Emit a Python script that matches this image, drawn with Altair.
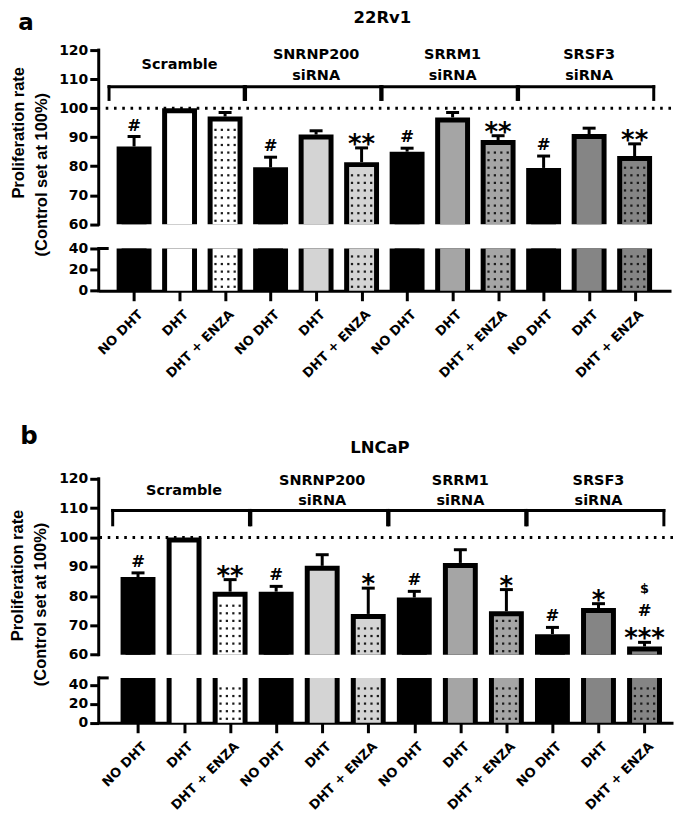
import altair as alt
import pandas as pd

FONT = "DejaVu Sans"
TFONT = "Liberation Sans"

treatments = ["NO DHT", "DHT", "DHT + ENZA"]
groups = ["Scramble", "SNRNP200", "SRRM1", "SRSF3"]
group_lines = [["Scramble"], ["SNRNP200", "siRNA"], ["SRRM1", "siRNA"], ["SRSF3", "siRNA"]]
group_fills = ["#ffffff", "#d4d4d4", "#a5a5a5", "#858585"]

# Panel a: 22Rv1
a_values = [86.8, 100, 97.1, 79.6, 90.9, 81.4, 85.0, 96.8, 89.0, 79.4, 91.1, 83.5]
a_errors = [3.4, 0, 1.4, 3.5, 1.3, 4.9, 1.2, 1.7, 1.5, 4.1, 2.0, 4.2]
a_marks = ["#", "", "", "#", "", "**", "#", "", "**", "#", "", "**"]
a_extra = []

# Panel b: LNCaP
b_values = [86.5, 100, 81.5, 81.5, 90.3, 73.9, 79.5, 91.3, 74.8, 67.0, 75.9, 62.8]
b_errors = [1.4, 0, 4.1, 1.8, 3.8, 8.8, 2.1, 4.5, 7.4, 2.3, 1.5, 1.4]
b_marks = ["#", "", "**", "#", "", "*", "#", "", "*", "#", "*", "***"]
b_extra = [(11, "#", 1), (11, "$", 2)]

y_ticks = [0, 20, 40, 60, 70, 80, 90, 100, 110, 120]
y_title = ["Proliferation rate", "(Control set at 100%)"]

PANELS = [
    dict(letter="a", title="22Rv1", values=a_values, errors=a_errors, marks=a_marks, extra=a_extra,
         segtop=40, h_top=174.7, gap=24.3, h_low=42.4, width=574, xdom=[-0.667, 11.69],
         bracket=(107.4, 103.0), label_y=(114.9, 118.3, 111.1),
         letter_pos=(-73, -20), letter_size=23, title_pos=(284.5, -27),
         ytitle_pos=[(-75, 83), (-52, 125)]),
    dict(letter="b", title="LNCaP", values=b_values, errors=b_errors, marks=b_marks, extra=b_extra,
         segtop=47.4, h_top=176.4, gap=23.3, h_low=45.0, width=576, xdom=[-0.745, 11.51],
         bracket=(109.2, 104.3), label_y=(116.0, 119.4, 112.3),
         letter_pos=(-70, -35), letter_size=24.5, title_pos=(282, -26),
         ytitle_pos=[(-76, 97), (-53, 126)]),
]

ANN_STYLE = {
    ("star", 0): dict(fontSize=26, dy=5),
    ("hash", 0): dict(fontSize=16.5, dy=-6),
    ("hash", 1): dict(fontSize=16.5, dy=-26),
    ("dollar", 2): dict(fontSize=13, dy=-50),
}


def kind_of(t):
    if "*" in t:
        return "star"
    if "#" in t:
        return "hash"
    return "dollar"


def make_panel(p):
    values, errors = p["values"], p["errors"]
    segtop = p["segtop"]
    H = p["h_top"] + p["gap"] + p["h_low"]
    W = p["width"]
    yscale = alt.Scale(domain=[0, segtop, 60, 120], range=[H, H - p["h_low"], p["h_top"], 0],
                       nice=False, zero=False)
    xscale = alt.Scale(domain=p["xdom"], nice=False, zero=False)
    step = W / (p["xdom"][1] - p["xdom"][0])

    xaxis = alt.Axis(values=list(range(12)), tickCount=40,
                     labelExpr="['NO DHT','DHT','DHT + ENZA'][datum.value % 3]",
                     labelAngle=315, labelAlign="right", labelBaseline="top",
                     labelFont=FONT, labelFontSize=13, labelFontWeight="bold",
                     labelColor="black", labelPadding=7, labelOffset=2, labelOverlap=False,
                     labelFlush=False, domainColor="black", domainWidth=3, tickColor="black",
                     tickWidth=3, tickSize=10, grid=False, title=None)
    yaxis = alt.Axis(values=y_ticks, tickCount=40, domain=False, grid=False, labelFont=FONT,
                     labelFontSize=14, labelFontWeight="bold", labelColor="black", labelPadding=2,
                     labelOverlap=False, labelFlush=False, tickColor="black", tickWidth=3,
                     tickSize=9, title=None)

    def X(f):
        return alt.X(f, type="quantitative", scale=xscale, axis=xaxis)

    def Y(f):
        return alt.Y(f, type="quantitative", scale=yscale, axis=yaxis)

    rows = []
    for i, v in enumerate(values):
        g, t = divmod(i, 3)
        rows.append({"idx": i, "value": v, "err": errors[i], "cap": v + errors[i],
                     "fill": "#000000" if t == 0 else group_fills[g]})
    bars = pd.DataFrame(rows)

    # dot texture for the DHT + ENZA bars
    pxu_top = p["h_top"] / 60.0
    pxu_low = p["h_low"] / segtop
    dots = []
    for i, v in enumerate(values):
        if i % 3 != 2:
            continue
        ys = []
        q = 3.5
        while q < (v - 60) * pxu_top - 8:
            ys.append(60 + q / pxu_top)
            q += 7.6
        q = 4.0
        while q < p["h_low"] - 3:
            ys.append(q / pxu_low)
            q += 7.6
        for yv in ys:
            for off in (-9.8, -3.3, 3.3, 9.8):
                dots.append({"dx": i + off / step, "dy": yv})
    dots = pd.DataFrame(dots)

    layers = []
    layers.append(alt.Chart(pd.DataFrame({"v": [100]})).mark_rule(
        color="black", strokeWidth=3, strokeDash=[2.6, 5.7]).encode(y=Y("v")))
    layers.append(alt.Chart(bars).mark_bar(width=35, color="black").encode(
        x=X("idx"), y=Y("value"), y2=alt.datum(60)))
    layers.append(alt.Chart(bars).mark_bar(width=25, yOffset=5).encode(
        x=X("idx"), y=Y("value"), y2=alt.datum(60), fill=alt.Fill("fill:N", scale=None)))
    layers.append(alt.Chart(bars).mark_bar(width=35, color="black").encode(
        x=X("idx"), y=alt.datum(segtop), y2=alt.datum(0)))
    layers.append(alt.Chart(bars).mark_bar(width=25).encode(
        x=X("idx"), y=alt.datum(segtop), y2=alt.datum(0), fill=alt.Fill("fill:N", scale=None)))
    layers.append(alt.Chart(dots).mark_square(size=5, color="#1a1a1a", opacity=1).encode(
        x=X("dx"), y=Y("dy")))
    layers.append(alt.Chart(bars).transform_filter("datum.err > 0").mark_rule(
        color="black", strokeWidth=3).encode(x=X("idx"), y=Y("value"), y2=alt.Y2("cap")))
    layers.append(alt.Chart(bars).transform_filter("datum.err > 0").mark_tick(
        orient="horizontal", size=13, thickness=3, color="black", opacity=1).encode(
        x=X("idx"), y=Y("cap")))

    # broken y axis line
    seg = pd.DataFrame({"y0": [0, 60], "y1": [segtop, 120]})
    layers.append(alt.Chart(seg).mark_rule(color="black", strokeWidth=3, strokeCap="square").encode(
        x=alt.value(0), y=Y("y0"), y2=alt.Y2("y1")))
    layers.append(alt.Chart(pd.DataFrame({"y": [segtop]})).mark_rule(
        color="black", strokeWidth=3).encode(x=alt.value(0), x2=alt.value(10), y=Y("y")))

    # brackets
    bt, bl = p["bracket"]
    br = pd.DataFrame([{"left": 3 * g - 0.55, "right": 3 * g + 2.42, "top": bt, "leg": bl}
                       for g in range(4)])
    layers.append(alt.Chart(br).mark_rule(color="black", strokeWidth=3, strokeCap="square").encode(
        x=X("left"), x2=alt.X2("right"), y=Y("top")))
    layers.append(alt.Chart(br).mark_rule(color="black", strokeWidth=3, strokeCap="square").encode(
        x=X("left"), y=Y("top"), y2=alt.Y2("leg")))
    layers.append(alt.Chart(br).mark_rule(color="black", strokeWidth=3, strokeCap="square").encode(
        x=X("right"), y=Y("top"), y2=alt.Y2("leg")))

    ly_single, ly1, ly2 = p["label_y"]
    gl = []
    for g, lines in enumerate(group_lines):
        if len(lines) == 1:
            gl.append({"x": 3 * g + 1, "y": ly_single, "text": lines[0]})
        else:
            gl.append({"x": 3 * g + 1, "y": ly1, "text": lines[0]})
            gl.append({"x": 3 * g + 1, "y": ly2, "text": lines[1]})
    layers.append(alt.Chart(pd.DataFrame(gl)).mark_text(
        font=FONT, fontSize=14.5, fontWeight="bold", color="black", baseline="middle",
        align="center").encode(x=X("x"), y=Y("y"), text="text:N"))

    # significance annotations
    ann = []
    for i, t in enumerate(p["marks"]):
        if t:
            ann.append({"idx": i, "cap": values[i] + errors[i], "text": t,
                        "key": f"{kind_of(t)}{0}"})
    for i, t, lvl in p["extra"]:
        ann.append({"idx": i, "cap": values[i] + errors[i], "text": t,
                    "key": f"{kind_of(t)}{lvl}"})
    ann = pd.DataFrame(ann)
    for (kind, lvl), st in ANN_STYLE.items():
        key = f"{kind}{lvl}"
        if key not in set(ann["key"]):
            continue
        layers.append(alt.Chart(ann).transform_filter(alt.datum.key == key).mark_text(
            font=FONT, fontWeight="bold", color="black", align="center", baseline="alphabetic",
            fontSize=st["fontSize"], dy=st["dy"]).encode(x=X("idx"), y=Y("cap"), text="text:N"))

    # y title lines (rotated)
    for line, (bx, cy) in zip(y_title, p["ytitle_pos"]):
        layers.append(alt.Chart(pd.DataFrame({"t": [line]})).mark_text(
            font=TFONT, fontSize=16.5, fontWeight="bold", color="black", angle=270,
            align="center", baseline="alphabetic").encode(
            x=alt.value(bx), y=alt.value(cy), text="t:N"))

    lx, lyy = p["letter_pos"]
    layers.append(alt.Chart(pd.DataFrame({"t": [p["letter"]]})).mark_text(
        font=FONT, fontSize=p["letter_size"], fontWeight="bold", color="black", align="center",
        baseline="alphabetic").encode(x=alt.value(lx), y=alt.value(lyy), text="t:N"))
    tx, ty = p["title_pos"]
    layers.append(alt.Chart(pd.DataFrame({"t": [p["title"]]})).mark_text(
        font=FONT, fontSize=16.5, fontWeight="bold", color="black", align="center",
        baseline="alphabetic").encode(x=alt.value(tx), y=alt.value(ty), text="t:N"))

    return alt.layer(*layers).properties(width=W, height=H)


chart = alt.vconcat(make_panel(PANELS[0]), make_panel(PANELS[1]), spacing=43).properties(
    padding={"left": 2, "top": 1, "right": 0, "bottom": 0}
).configure_view(strokeWidth=0)

chart.save("out.html", embed_options={"renderer": "svg", "actions": False})
